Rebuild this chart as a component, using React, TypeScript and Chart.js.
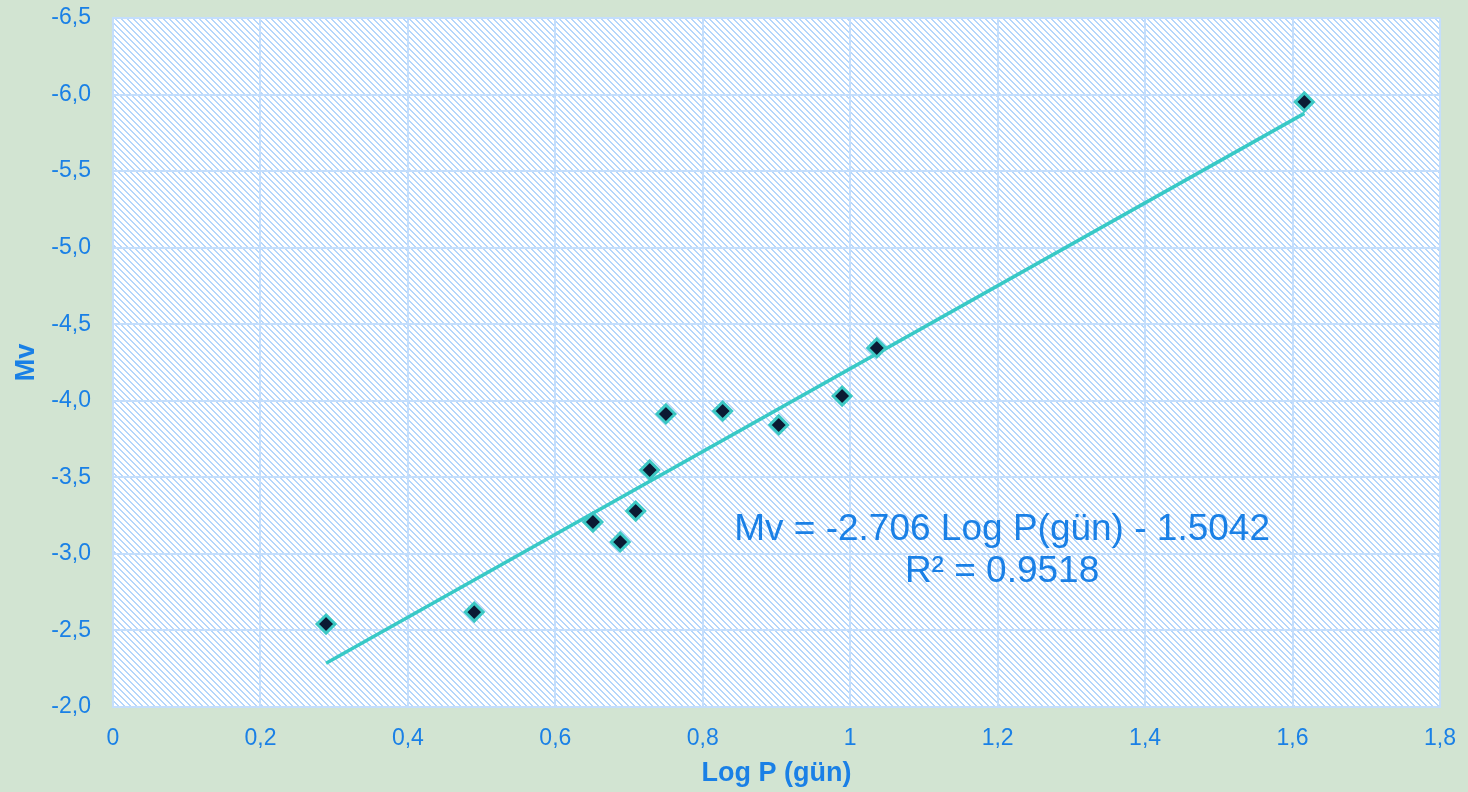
import React, { useEffect, useRef } from "react";
import { Chart, registerables } from "chart.js";

Chart.register(...registerables);

const logP = [0.289, 0.49, 0.651, 0.688, 0.709, 0.728, 0.75, 0.827, 0.903, 0.989, 1.036, 1.616];
const mv = [-2.542, -2.62, -3.208, -3.078, -3.28, -3.548, -3.914, -3.933, -3.842, -4.031, -4.345, -5.952];
const trendX = [0.289, 1.616];
const trendY = [-2.286, -5.877];
const equationLines = ["Mv = -2.706 Log P(gün) - 1.5042", "R² = 0.9518"];
const xTitle = "Log P (gün)";
const yTitle = "Mv";

const BLUE = "#1a80e6";
const GRID = "#c4defc";
const BG = "#d2e4d2";

function makePattern(ctx: CanvasRenderingContext2D) {
  const c = document.createElement("canvas");
  c.width = 6;
  c.height = 6;
  const p = c.getContext("2d")!;
  p.fillStyle = "#ffffff";
  p.fillRect(0, 0, 6, 6);
  p.fillStyle = "#b5d6fb";
  for (let y = 0; y < 6; y++) {
    for (let x = 0; x < 6; x++) {
      const d = (((x - y) % 6) + 6) % 6;
      if (d === 0 || d === 1) p.fillRect(x, y, 1, 1);
    }
  }
  return ctx.createPattern(c, "repeat")!;
}

const bgPlugin = {
  id: "bgPlugin",
  beforeDraw(chart: any) {
    const { ctx, chartArea } = chart;
    ctx.save();
    ctx.fillStyle = makePattern(ctx);
    ctx.fillRect(chartArea.left, chartArea.top, chartArea.right - chartArea.left, chartArea.bottom - chartArea.top);
    ctx.restore();
  },
  afterDraw(chart: any) {
    const { ctx, chartArea } = chart;
    const xs = chart.scales.x;
    const ys = chart.scales.y;
    ctx.save();
    ctx.fillStyle = BLUE;
    ctx.textAlign = "center";
    ctx.textBaseline = "middle";
    ctx.font = "37px 'Liberation Sans', Arial, sans-serif";
    const cx = xs.getPixelForValue(1.206);
    ctx.fillText(equationLines[0], cx, ys.getPixelForValue(-3.155));
    ctx.fillText(equationLines[1], cx, ys.getPixelForValue(-2.88));
    ctx.font = "bold 27px 'Liberation Sans', Arial, sans-serif";
    ctx.fillText(xTitle, (chartArea.left + chartArea.right) / 2, 774);
    ctx.translate(27, (chartArea.top + chartArea.bottom) / 2);
    ctx.rotate(-Math.PI / 2);
    ctx.fillText(yTitle, 0, 0);
    ctx.restore();
  },
};

export default function App() {
  const ref = useRef<HTMLCanvasElement>(null);
  useEffect(() => {
    const chart = new Chart(ref.current!, {
      type: "scatter",
      data: {
        datasets: [
          {
            type: "line",
            data: trendX.map((x, i) => ({ x, y: trendY[i] })),
            borderColor: "#38c9c6",
            borderWidth: 3.5,
            pointRadius: 0,
            fill: false,
            order: 2,
          } as any,
          {
            data: logP.map((x, i) => ({ x, y: mv[i] })),
            pointStyle: "rectRot",
            pointRadius: 9,
            backgroundColor: "#0b1a33",
            borderColor: "#3cc8c4",
            borderWidth: 3,
            order: 1,
          },
        ],
      },
      options: {
        animation: false,
        responsive: false,
        layout: { padding: { top: 18, right: 28, left: 0, bottom: 0 } },
        plugins: { legend: { display: false }, tooltip: { enabled: false } },
        scales: {
          x: {
            type: "linear",
            min: 0,
            max: 1.8,
            afterFit: (s: any) => {
              s.height = 85;
              s.paddingLeft = 0;
              s.paddingRight = 0;
            },
            border: { color: GRID, width: 2 },
            grid: { color: GRID, lineWidth: 2, drawTicks: false },
            ticks: {
              stepSize: 0.2,
              padding: 18,
              color: BLUE,
              font: { size: 23, family: "'Liberation Sans', Arial, sans-serif" },
              callback: (v: any) => String(Number(Number(v).toFixed(1))).replace(".", ","),
            },
          },
          y: {
            type: "linear",
            min: -6.5,
            max: -2.0,
            reverse: true,
            afterFit: (s: any) => {
              s.width = 113;
              s.paddingTop = 0;
              s.paddingBottom = 0;
            },
            border: { color: GRID, width: 2 },
            grid: { color: GRID, lineWidth: 2, drawTicks: false },
            ticks: {
              stepSize: 0.5,
              padding: 22,
              color: BLUE,
              font: { size: 23, family: "'Liberation Sans', Arial, sans-serif" },
              callback: (v: any) => Number(v).toFixed(1).replace(".", ","),
            },
          },
        },
      },
      plugins: [bgPlugin],
    });
    return () => chart.destroy();
  }, []);
  return (
    <div style={{ position: "absolute", left: 0, top: 0, width: 1468, height: 792, background: BG }}>
      <canvas ref={ref} width={1468} height={792} style={{ display: "block" }} />
    </div>
  );
}
